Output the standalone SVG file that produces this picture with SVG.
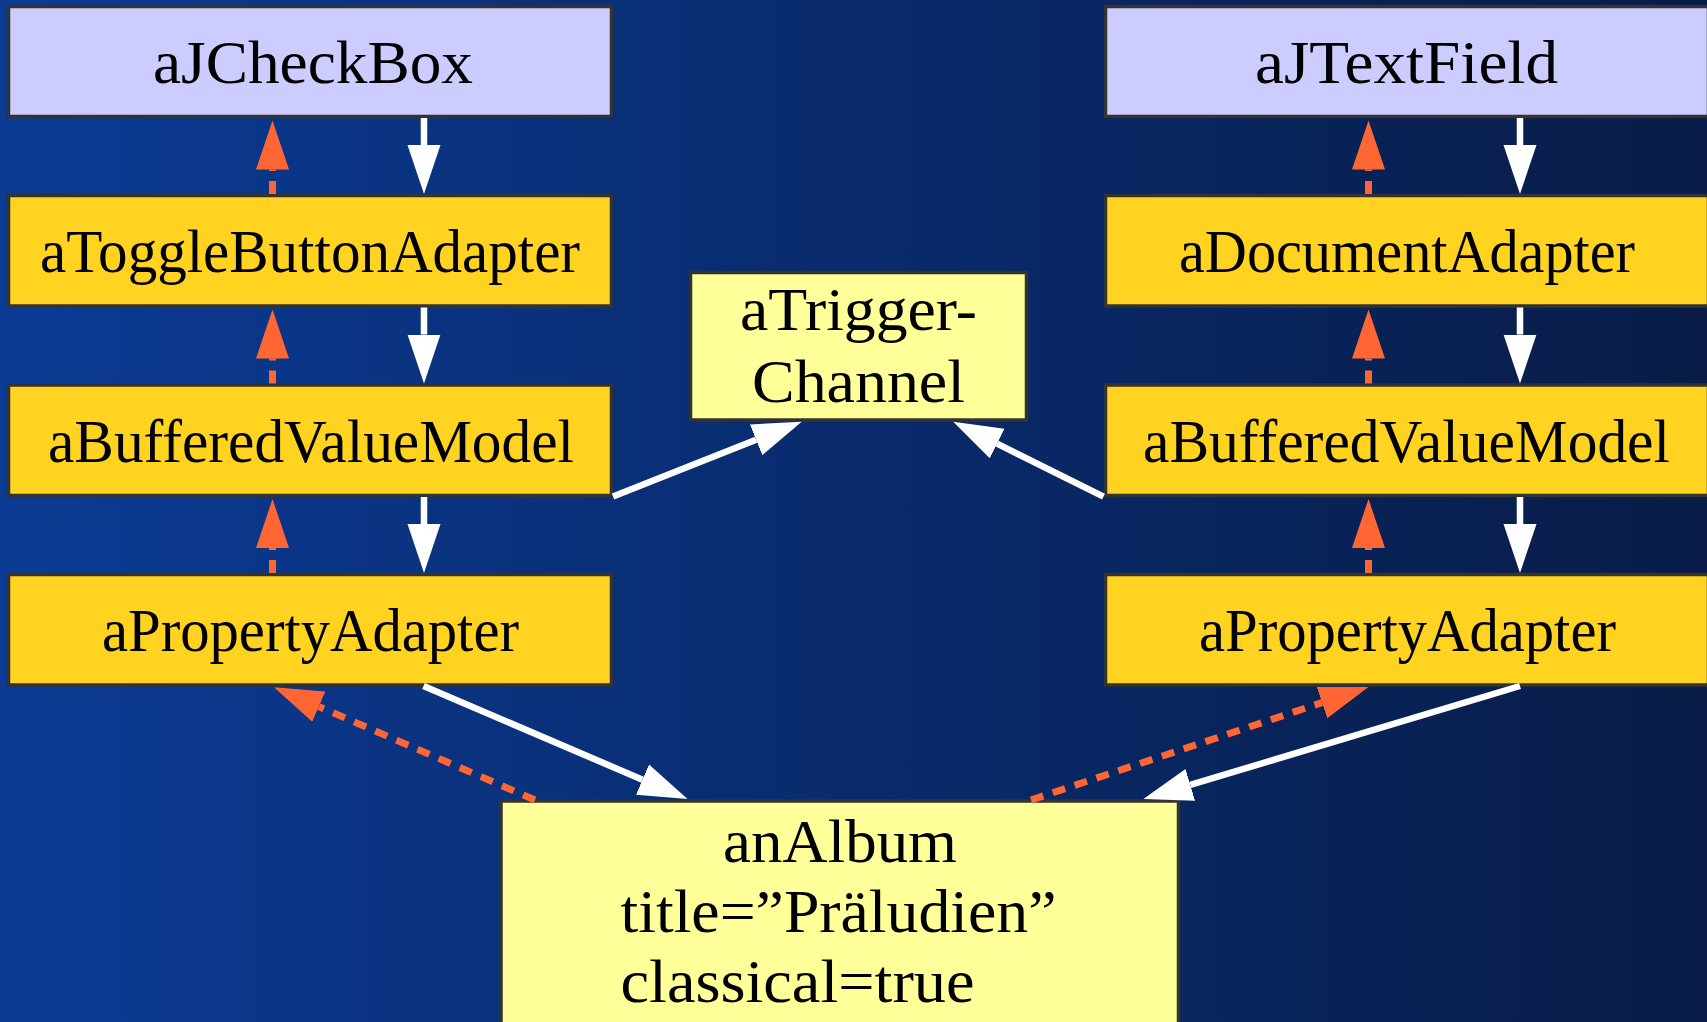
<svg xmlns="http://www.w3.org/2000/svg" width="1707" height="1022" viewBox="0 0 1707 1022">
  <defs>
    <linearGradient id="bg" x1="0" y1="0" x2="1" y2="0">
      <stop offset="0" stop-color="#0B3B94"/>
      <stop offset="0.5" stop-color="#092B6D"/>
      <stop offset="1" stop-color="#081C47"/>
    </linearGradient>
    <marker id="headWhite" markerUnits="userSpaceOnUse" markerWidth="50" markerHeight="34" viewBox="0 -17 50 34" refX="0" refY="0" orient="auto">
      <path d="M0,-16.5 L49,0 L0,16.5 Z" fill="#FFFFFF"/>
    </marker>
    <marker id="headOrange" markerUnits="userSpaceOnUse" markerWidth="50" markerHeight="34" viewBox="0 -17 50 34" refX="0" refY="0" orient="auto">
      <path d="M0,-16.5 L49,0 L0,16.5 Z" fill="#FF6633"/>
    </marker>
  </defs>
  <style>
    .box { stroke: #333333; stroke-width: 3.5; }
    .view { fill: #CCCCFF; }
    .adapter { fill: #FFD320; }
    .model { fill: #FFFF99; }
    .lbl { font-family: "Liberation Serif", "Times New Roman", serif; font-size: 62px; fill: #000000; }
    .flow { stroke: #FFFFFF; stroke-width: 6.5; fill: none; marker-end: url(#headWhite); }
    .notify { stroke: #FF6633; stroke-width: 7; fill: none; stroke-dasharray: 13 10; marker-end: url(#headOrange); }
  </style>

  <rect width="1707" height="1022" fill="url(#bg)"/>

  <!-- left chain: check box -->
  <g id="aJCheckBox">
    <rect class="box view" x="8.5" y="6.5" width="603" height="110"/>
    <text class="lbl" x="153" y="83" textLength="320" lengthAdjust="spacingAndGlyphs">aJCheckBox</text>
  </g>
  <g id="aToggleButtonAdapter">
    <rect class="box adapter" x="8.5" y="195.5" width="603" height="110.5"/>
    <text class="lbl" x="40" y="272" textLength="540" lengthAdjust="spacingAndGlyphs">aToggleButtonAdapter</text>
  </g>
  <g id="aBufferedValueModelLeft">
    <rect class="box adapter" x="8.5" y="385" width="603" height="110.5"/>
    <text class="lbl" x="48" y="461.5" textLength="526" lengthAdjust="spacingAndGlyphs">aBufferedValueModel</text>
  </g>
  <g id="aPropertyAdapterLeft">
    <rect class="box adapter" x="8.5" y="574.5" width="603" height="110.5"/>
    <text class="lbl" x="102" y="651" textLength="417" lengthAdjust="spacingAndGlyphs">aPropertyAdapter</text>
  </g>

  <!-- right chain: text field -->
  <g id="aJTextField">
    <rect class="box view" x="1105.5" y="6.5" width="603" height="110"/>
    <text class="lbl" x="1255" y="83" textLength="303" lengthAdjust="spacingAndGlyphs">aJTextField</text>
  </g>
  <g id="aDocumentAdapter">
    <rect class="box adapter" x="1105.5" y="195.5" width="603" height="110.5"/>
    <text class="lbl" x="1179" y="272" textLength="456" lengthAdjust="spacingAndGlyphs">aDocumentAdapter</text>
  </g>
  <g id="aBufferedValueModelRight">
    <rect class="box adapter" x="1105.5" y="385" width="603" height="110.5"/>
    <text class="lbl" x="1143" y="461.5" textLength="527" lengthAdjust="spacingAndGlyphs">aBufferedValueModel</text>
  </g>
  <g id="aPropertyAdapterRight">
    <rect class="box adapter" x="1105.5" y="574.5" width="603" height="110.5"/>
    <text class="lbl" x="1199" y="651" textLength="417" lengthAdjust="spacingAndGlyphs">aPropertyAdapter</text>
  </g>

  <!-- shared trigger -->
  <g id="aTriggerChannel">
    <rect class="box model" x="690.5" y="272.5" width="336" height="147.5"/>
    <text class="lbl" x="740" y="330" textLength="237" lengthAdjust="spacingAndGlyphs">aTrigger-</text>
    <text class="lbl" x="752" y="401.5" textLength="213" lengthAdjust="spacingAndGlyphs">Channel</text>
  </g>

  <!-- domain object -->
  <g id="anAlbum">
    <rect class="box model" x="501" y="801" width="677.5" height="260"/>
    <text class="lbl" x="723" y="861.5" textLength="234" lengthAdjust="spacingAndGlyphs">anAlbum</text>
    <text class="lbl" x="620.5" y="932" textLength="436" lengthAdjust="spacingAndGlyphs">title=”Präludien”</text>
    <text class="lbl" x="620.5" y="1001.5" textLength="354" lengthAdjust="spacingAndGlyphs">classical=true</text>
  </g>

  <g id="connectors">
    <!-- value flow downwards -->
    <line class="flow" x1="424" y1="118" x2="424" y2="145"/>
    <line class="flow" x1="424" y1="307.5" x2="424" y2="334.5"/>
    <line class="flow" x1="424" y1="497" x2="424" y2="524"/>
    <line class="flow" x1="1520" y1="118" x2="1520" y2="145"/>
    <line class="flow" x1="1520" y1="307.5" x2="1520" y2="334.5"/>
    <line class="flow" x1="1520" y1="497" x2="1520" y2="524"/>

    <!-- change notifications upwards -->
    <line class="notify" x1="272.5" y1="194" x2="272.5" y2="169.5"/>
    <line class="notify" x1="272.5" y1="383.5" x2="272.5" y2="358.5"/>
    <line class="notify" x1="272.5" y1="573" x2="272.5" y2="548"/>
    <line class="notify" x1="1368.5" y1="194" x2="1368.5" y2="169.5"/>
    <line class="notify" x1="1368.5" y1="383.5" x2="1368.5" y2="358.5"/>
    <line class="notify" x1="1368.5" y1="573" x2="1368.5" y2="548"/>

    <!-- buffers to trigger -->
    <line class="flow" x1="613" y1="496.5" x2="756.1" y2="439.8"/>
    <line class="flow" x1="1103.5" y1="496.7" x2="997.1" y2="443.6"/>

    <!-- property adapters to album -->
    <line class="flow" x1="423.5" y1="686" x2="642.5" y2="779.7"/>
    <line class="flow" x1="1520" y1="686" x2="1190.3" y2="784.9"/>

    <!-- album notifies property adapters -->
    <line class="notify" x1="535" y1="800" x2="318.9" y2="706.6"/>
    <line class="notify" x1="1031" y1="800" x2="1322" y2="702.6"/>
  </g>
</svg>
